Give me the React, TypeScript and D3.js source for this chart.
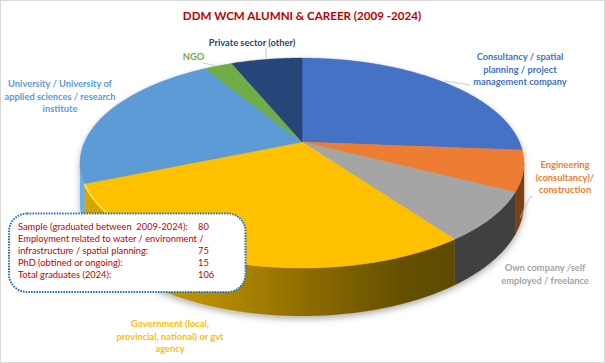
import React from "react";
import * as d3 from "d3";

const categories = [
  "Consultancy / spatial planning / project management company",
  "Engineering (consultancy)/ construction",
  "Own company /self employed / freelance",
  "Government (local, provincial, national) or gvt agency",
  "University / University of applied sciences / research institute",
  "NGO",
  "Private sector (other)",
];
const values = [21, 5, 6, 23, 18, 2, 5];
const topColors = ["#4472C4", "#ED7D31", "#A5A5A5", "#FFC000", "#5B9BD5", "#70AD47", "#264478"];
const sideColors = ["#2f4f88", "#7a3f12", "#414141", "url(#govWall)", "#69aeea", "#4e7a31", "#1a2f53"];

const labelLines = [
  ["Consultancy / spatial", "planning / project", "management company"],
  ["Engineering", "(consultancy)/", "construction"],
  ["Own company /self", "employed / freelance"],
  ["Government (local,", "provincial, national) or gvt", "agency"],
  ["University / University of", "applied sciences / research", "institute"],
  ["NGO"],
  ["Private sector (other)"],
];
const labelAnchors: [number, number][] = [
  [520, 60], [565, 168], [545, 271], [170, 327], [60, 87], [193.5, 60], [252, 46],
];
const labelColors = ["#4472C4", "#ED7D31", "#A5A5A5", "#FFC000", "#5B9BD5", "#70AD47", "#264478"];
const leaderLines: [number, number][][] = [
  [[470, 85], [445, 81]],
  [[533, 197], [530, 197], [520, 218]],
  [],
  [],
  [],
  [[203, 63], [215, 65.5]],
  [[266, 48], [266, 58]],
];

const infoLabels = [
  "Sample (graduated between  2009-2024):",
  "Employment related to water / environment /",
  "infrastructure / spatial planning:",
  "PhD (obtined or ongoing):",
  "Total graduates (2024):",
];
const infoValues = ["80", "", "75", "15", "106"];

const title = "DDM WCM ALUMNI & CAREER (2009 -2024)";

const CX = 302, CY = 142, A = 217.5, B = 100.8, K = 0.2, DEPTH = 38.4;
const FRONT_START = Math.PI - Math.acos(0.2);
const FRONT_END = Math.PI + Math.acos(0.2);

const FONT = "Lato, Carlito, Calibri, sans-serif";

function project(t: number, drop = 0): [number, number] {
  const u = Math.sin(t), v = Math.cos(t), w = 1 + K * v;
  return [CX + (A * u) / w, CY - (B * v) / w + drop / w];
}
function samples(a: number, b: number) {
  const n = Math.max(2, Math.ceil(Math.abs(b - a) / 0.01));
  return d3.range(n + 1).map((i) => a + ((b - a) * i) / n);
}
const line = d3.line<[number, number]>();
const wedge = (a: number, b: number) =>
  line([[CX, CY], ...samples(a, b).map((t) => project(t))]) + "Z";
const wall = (a: number, b: number) =>
  line([
    ...samples(a, b).map((t) => project(t)),
    ...samples(b, a).map((t) => project(t, DEPTH)),
  ]) + "Z";

export default function App() {
  const arcs = d3.pie<number>().sort(null)(values);
  return (
    <svg width={605} height={363} style={{ position: "absolute", left: 0, top: 0 }} fontFamily={FONT}>
      <defs>
        <linearGradient id="govWall" gradientUnits="userSpaceOnUse" x1={85} x2={455} y1={0} y2={0}>
          <stop offset="0" stopColor="#d9a600" />
          <stop offset="0.35" stopColor="#b58c00" />
          <stop offset="0.6" stopColor="#8d6c00" />
          <stop offset="0.85" stopColor="#665000" />
          <stop offset="1" stopColor="#5f4b00" />
        </linearGradient>
        <linearGradient id="rim" gradientUnits="userSpaceOnUse" x1={85} x2={330} y1={0} y2={0}>
          <stop offset="0" stopColor="#ffe14d" />
          <stop offset="0.7" stopColor="#ffd21f" />
          <stop offset="1" stopColor="#ffc000" />
        </linearGradient>
        <filter id="pieShadow" x="-10%" y="-10%" width="120%" height="125%">
          <feDropShadow dx="0" dy="3" stdDeviation="3" floodColor="#000" floodOpacity="0.3" />
        </filter>
      </defs>
      <rect x={0.5} y={0.5} width={604} height={362} fill="#fff" stroke="#d9d9d9" />

      <g filter="url(#pieShadow)">
        {arcs.map((d, i) => {
          const a = Math.max(d.startAngle, FRONT_START);
          const b = Math.min(d.endAngle, FRONT_END);
          return b > a ? <path key={i} d={wall(a, b)} fill={sideColors[i]} stroke={sideColors[i]} strokeWidth={0.3} /> : null;
        })}
        {arcs.map((d, i) => (
          <path key={i} d={wedge(d.startAngle, d.endAngle)} fill={topColors[i]} stroke={topColors[i]} strokeWidth={0.4} />
        ))}
      </g>
      <path
        d={line(samples(arcs[3].startAngle + 1.0, arcs[3].endAngle).map((t) => project(t))) ?? ""}
        fill="none" stroke="url(#rim)" strokeWidth={1.6}
      />

      {leaderLines.map((pts, i) =>
        pts.length ? <path key={i} d={line(pts) ?? ""} fill="none" stroke="#bfbfbf" strokeWidth={0.8} /> : null
      )}

      <text x={302} y={19.5} textAnchor="middle" fontSize={11.6} fontWeight={700} fill="#C00000">{title}</text>

      {categories.map((c, i) => (
        <text key={c} textAnchor="middle" fontSize={9.3} fontWeight={700} fill={labelColors[i]}>
          {labelLines[i].map((l, j) => (
            <tspan key={j} x={labelAnchors[i][0]} y={labelAnchors[i][1] + j * 12.6}>{l}</tspan>
          ))}
        </text>
      ))}

      <rect x={9} y={213.5} width={236.5} height={78.5} rx={18} ry={18} fill="#fff" stroke="#2E75B6" strokeWidth={2} strokeDasharray="1.6 1.1" />
      {infoLabels.map((l, i) => (
        <g key={i} fontSize={9.3} fill="#C00000">
          <text x={18} y={230 + i * 12} xmlSpace="preserve">{l}</text>
          <text x={198} y={230 + i * 12}>{infoValues[i]}</text>
        </g>
      ))}
    </svg>
  );
}
